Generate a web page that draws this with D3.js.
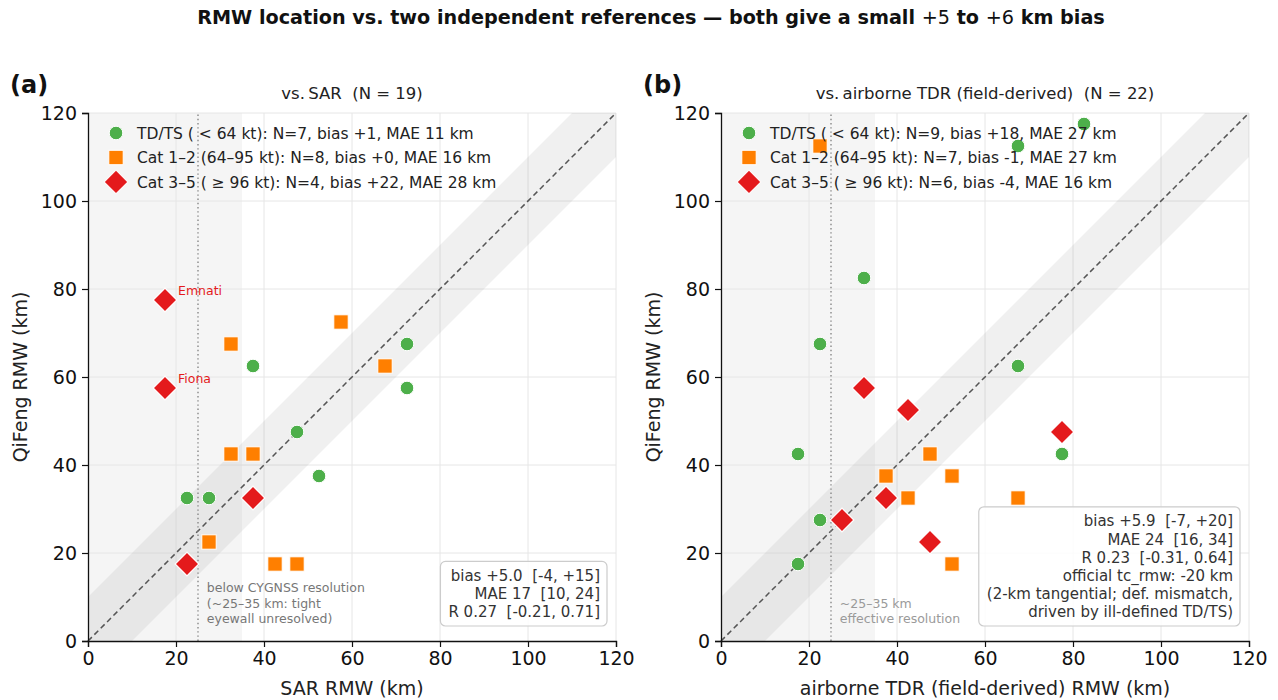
<!DOCTYPE html>
<html>
<head>
<meta charset="utf-8">
<script src="https://cdn.jsdelivr.net/npm/d3@7"></script>
<style>
  body { margin: 0; background: #fff; }
  text { font-family: "DejaVu Sans", sans-serif; white-space: pre; }
</style>
</head>
<body>
<div id="chart-area"></div>
<script>
// data (km)
var sarTdts = [[22.5, 32.5], [27.5, 32.5], [37.5, 62.5], [47.5, 47.5], [52.5, 37.5], [72.5, 67.5], [72.5, 57.5]];
var sarCat12 = [[32.5, 67.5], [57.5, 72.5], [67.5, 62.5], [32.5, 42.5], [37.5, 42.5], [27.5, 22.5], [42.5, 17.5], [47.5, 17.5]];
var sarCat35 = [[17.5, 77.5], [17.5, 57.5], [37.5, 32.5], [22.5, 17.5]];
var sarNames = ["Emnati", "Fiona", "", ""];

var tdrTdts = [[82.5, 117.5], [67.5, 112.5], [32.5, 82.5], [22.5, 67.5], [67.5, 62.5], [17.5, 42.5], [77.5, 42.5], [22.5, 27.5], [17.5, 17.5]];
var tdrCat12 = [[22.5, 112.5], [37.5, 37.5], [47.5, 42.5], [42.5, 32.5], [52.5, 37.5], [67.5, 32.5], [52.5, 17.5]];
var tdrCat35 = [[32.5, 57.5], [42.5, 52.5], [77.5, 47.5], [37.5, 32.5], [27.5, 27.5], [47.5, 22.5]];

var sarLegend = ["TD/TS ( < 64 kt): N=7, bias +1, MAE 11 km",
                 "Cat 1\u20132 (64\u201395 kt): N=8, bias +0, MAE 16 km",
                 "Cat 3\u20135 ( \u2265 96 kt): N=4, bias +22, MAE 28 km"];
var tdrLegend = ["TD/TS ( < 64 kt): N=9, bias +18, MAE 27 km",
                 "Cat 1\u20132 (64\u201395 kt): N=7, bias -1, MAE 27 km",
                 "Cat 3\u20135 ( \u2265 96 kt): N=6, bias -4, MAE 16 km"];
var sarStats = ["bias +5.0  [-4, +15]", "MAE 17  [10, 24]", "R 0.27  [-0.21, 0.71]"];
var tdrStats = ["bias +5.9  [-7, +20]", "MAE 24  [16, 34]", "R 0.23  [-0.31, 0.64]",
                "official tc_rmw: -20 km", "(2-km tangential; def. mismatch,", "driven by ill-defined TD/TS)"];
var sarNote = ["below CYGNSS resolution", "(~25\u201335 km: tight", "eyewall unresolved)"];
var tdrNote = ["~25\u201335 km", "effective resolution"];
var ticks = [0, 20, 40, 60, 80, 100, 120];

var colors = { tdts: "#4daf4a", cat12: "#ff7f00", cat35: "#e41a1c" };

var W = 1278, H = 700;
var svg = d3.select("#chart-area").append("svg")
  .attr("width", W).attr("height", H);

// suptitle, the +5 / +6 are set in regular weight like mathtext
var sup = svg.append("text")
  .attr("x", 651).attr("y", 24)
  .attr("text-anchor", "middle")
  .attr("font-size", "19.2px")
  .attr("font-weight", "bold")
  .attr("fill", "#111");
sup.append("tspan").text("RMW location vs. two independent references \u2014 both give a small ");
sup.append("tspan").attr("font-weight", "normal").text("+5");
sup.append("tspan").text(" to ");
sup.append("tspan").attr("font-weight", "normal").text("+6");
sup.append("tspan").text(" km bias");

function panel(left, label, title, xTitle, tdts, cat12, cat35, names, legend, stats, note, noteColor) {
  var size = 528;
  var top = 113;
  var g = svg.append("g").attr("transform", "translate(" + left + "," + top + ")");
  var x = d3.scaleLinear().domain([0, 120]).range([0, size]);
  var y = d3.scaleLinear().domain([0, 120]).range([size, 0]);

  // low-resolution zone
  g.append("rect")
    .attr("x", x(0)).attr("y", y(120))
    .attr("width", x(35) - x(0)).attr("height", y(0) - y(120))
    .attr("fill", "#000").attr("opacity", 0.04);

  // grid
  g.selectAll(".gx").data(ticks.slice(1)).enter().append("line")
    .attr("x1", d => x(d)).attr("x2", d => x(d))
    .attr("y1", y(0)).attr("y2", y(120))
    .attr("stroke", "#e6e6e6").attr("stroke-width", 1);
  g.selectAll(".gy").data(ticks.slice(1)).enter().append("line")
    .attr("y1", d => y(d)).attr("y2", d => y(d))
    .attr("x1", x(0)).attr("x2", x(120))
    .attr("stroke", "#e6e6e6").attr("stroke-width", 1);

  // +-10 km band
  var band = [[0, 10], [110, 120], [120, 120], [120, 110], [10, 0], [0, 0]];
  g.append("path")
    .attr("d", d3.line().x(d => x(d[0])).y(d => y(d[1]))(band) + "Z")
    .attr("fill", "#888").attr("opacity", 0.13);

  // 1:1 line
  g.append("line")
    .attr("x1", x(0)).attr("y1", y(0)).attr("x2", x(120)).attr("y2", y(120))
    .attr("stroke", "#555").attr("stroke-width", 1.5)
    .attr("stroke-dasharray", "5.5,3.5");

  // resolution line
  g.append("line")
    .attr("x1", x(25)).attr("x2", x(25)).attr("y1", y(0)).attr("y2", y(120))
    .attr("stroke", "#888").attr("stroke-width", 1.4)
    .attr("stroke-dasharray", "1.4,2.8");

  note.forEach(function(t, i) {
    g.append("text")
      .attr("x", x(27)).attr("y", y(0) - 49 + i * 15.5 + (note.length == 2 ? 15.5 : 0))
      .attr("font-size", "12.5px").attr("fill", noteColor)
      .text(t);
  });

  // axes
  var xAxis = g.append("g").attr("transform", "translate(0," + size + ")")
    .call(d3.axisBottom(x).tickValues(ticks).tickSize(6).tickPadding(5));
  var yAxis = g.append("g")
    .call(d3.axisLeft(y).tickValues(ticks).tickSize(6).tickPadding(5));
  [xAxis, yAxis].forEach(function(a) {
    a.selectAll("text").attr("font-size", "19px").attr("fill", "#111")
      .attr("font-family", "DejaVu Sans");
    a.selectAll("line").attr("stroke", "#111").attr("stroke-width", 1.2);
    a.select(".domain").attr("stroke", "#111").attr("stroke-width", 1.3);
  });

  // markers
  g.selectAll(".c").data(tdts).enter().append("circle")
    .attr("cx", d => x(d[0])).attr("cy", d => y(d[1])).attr("r", 6.8)
    .attr("fill", colors.tdts).attr("stroke", "#fff").attr("stroke-width", 1);
  g.selectAll(".s").data(cat12).enter().append("rect")
    .attr("x", d => x(d[0]) - 7.2).attr("y", d => y(d[1]) - 7.2)
    .attr("width", 14.4).attr("height", 14.4)
    .attr("fill", colors.cat12).attr("stroke", "#fff").attr("stroke-width", 1);
  g.selectAll(".d").data(cat35).enter().append("path")
    .attr("d", d3.symbol().type(d3.symbolSquare).size(280))
    .attr("transform", d => "translate(" + x(d[0]) + "," + y(d[1]) + ") rotate(45)")
    .attr("fill", colors.cat35).attr("stroke", "#fff").attr("stroke-width", 1.2);
  g.selectAll(".n").data(cat35).enter().append("text")
    .attr("x", d => x(d[0]) + 13).attr("y", d => y(d[1]) - 5)
    .attr("font-size", "12.5px").attr("fill", colors.cat35)
    .text((d, i) => names ? names[i] : "");

  // legend
  var lg = g.append("g").attr("transform", "translate(28,20)");
  legend.forEach(function(t, i) {
    var row = lg.append("g").attr("transform", "translate(0," + (i * 24.5) + ")");
    if (i == 0) row.append("circle").attr("r", 6.8).attr("fill", colors.tdts).attr("stroke", "#fff");
    if (i == 1) row.append("rect").attr("x", -7.2).attr("y", -7.2).attr("width", 14.4).attr("height", 14.4)
      .attr("fill", colors.cat12).attr("stroke", "#fff");
    if (i == 2) row.append("path").attr("d", d3.symbol().type(d3.symbolSquare).size(280))
      .attr("transform", "rotate(45)").attr("fill", colors.cat35).attr("stroke", "#fff");
    row.append("text").attr("x", 21).attr("y", 5.5)
      .attr("font-size", "15.5px").attr("fill", "#222").text(t);
  });

  // stats box
  var lineH = 18.2;
  var boxH = stats.length * lineH + 10;
  var boxBottom = size - 15;
  var sb = g.append("g");
  var txts = stats.map(function(t, i) {
    return sb.append("text")
      .attr("x", size - 16).attr("y", boxBottom - boxH + 19.5 + i * lineH)
      .attr("text-anchor", "end").attr("font-size", "15px").attr("fill", "#333")
      .text(t);
  });
  var wMax = d3.max(txts, t => t.node().getComputedTextLength());
  sb.insert("rect", "text")
    .attr("x", size - 16 - wMax - 8).attr("y", boxBottom - boxH)
    .attr("width", wMax + 15).attr("height", boxH)
    .attr("rx", 5).attr("fill", "#fff").attr("fill-opacity", 0.85)
    .attr("stroke", "#ccc").attr("stroke-width", 1.2);

  // titles
  g.append("text").attr("x", size / 2).attr("y", -14)
    .attr("text-anchor", "middle").attr("font-size", "16.5px").attr("fill", "#222")
    .text(title);
  g.append("text").attr("x", size / 2).attr("y", size + 54)
    .attr("text-anchor", "middle").attr("font-size", "19px").attr("fill", "#222")
    .text(xTitle);
  g.append("text")
    .attr("transform", "translate(-61," + (size / 2) + ") rotate(-90)")
    .attr("text-anchor", "middle").attr("font-size", "19px").attr("fill", "#222")
    .text("QiFeng RMW (km)");
  g.append("text").attr("x", -78).attr("y", -20)
    .attr("font-size", "24px").attr("font-weight", "bold").attr("fill", "#111")
    .text(label);
}

panel(88, "(a)", "vs.\u2009SAR  (N = 19)", "SAR RMW (km)",
      sarTdts, sarCat12, sarCat35, sarNames, sarLegend, sarStats, sarNote, "#777");
panel(721, "(b)", "vs.\u2009airborne TDR (field-derived)  (N = 22)", "airborne TDR (field-derived) RMW (km)",
      tdrTdts, tdrCat12, tdrCat35, null, tdrLegend, tdrStats, tdrNote, "#9a9a9a");
</script>
</body>
</html>
